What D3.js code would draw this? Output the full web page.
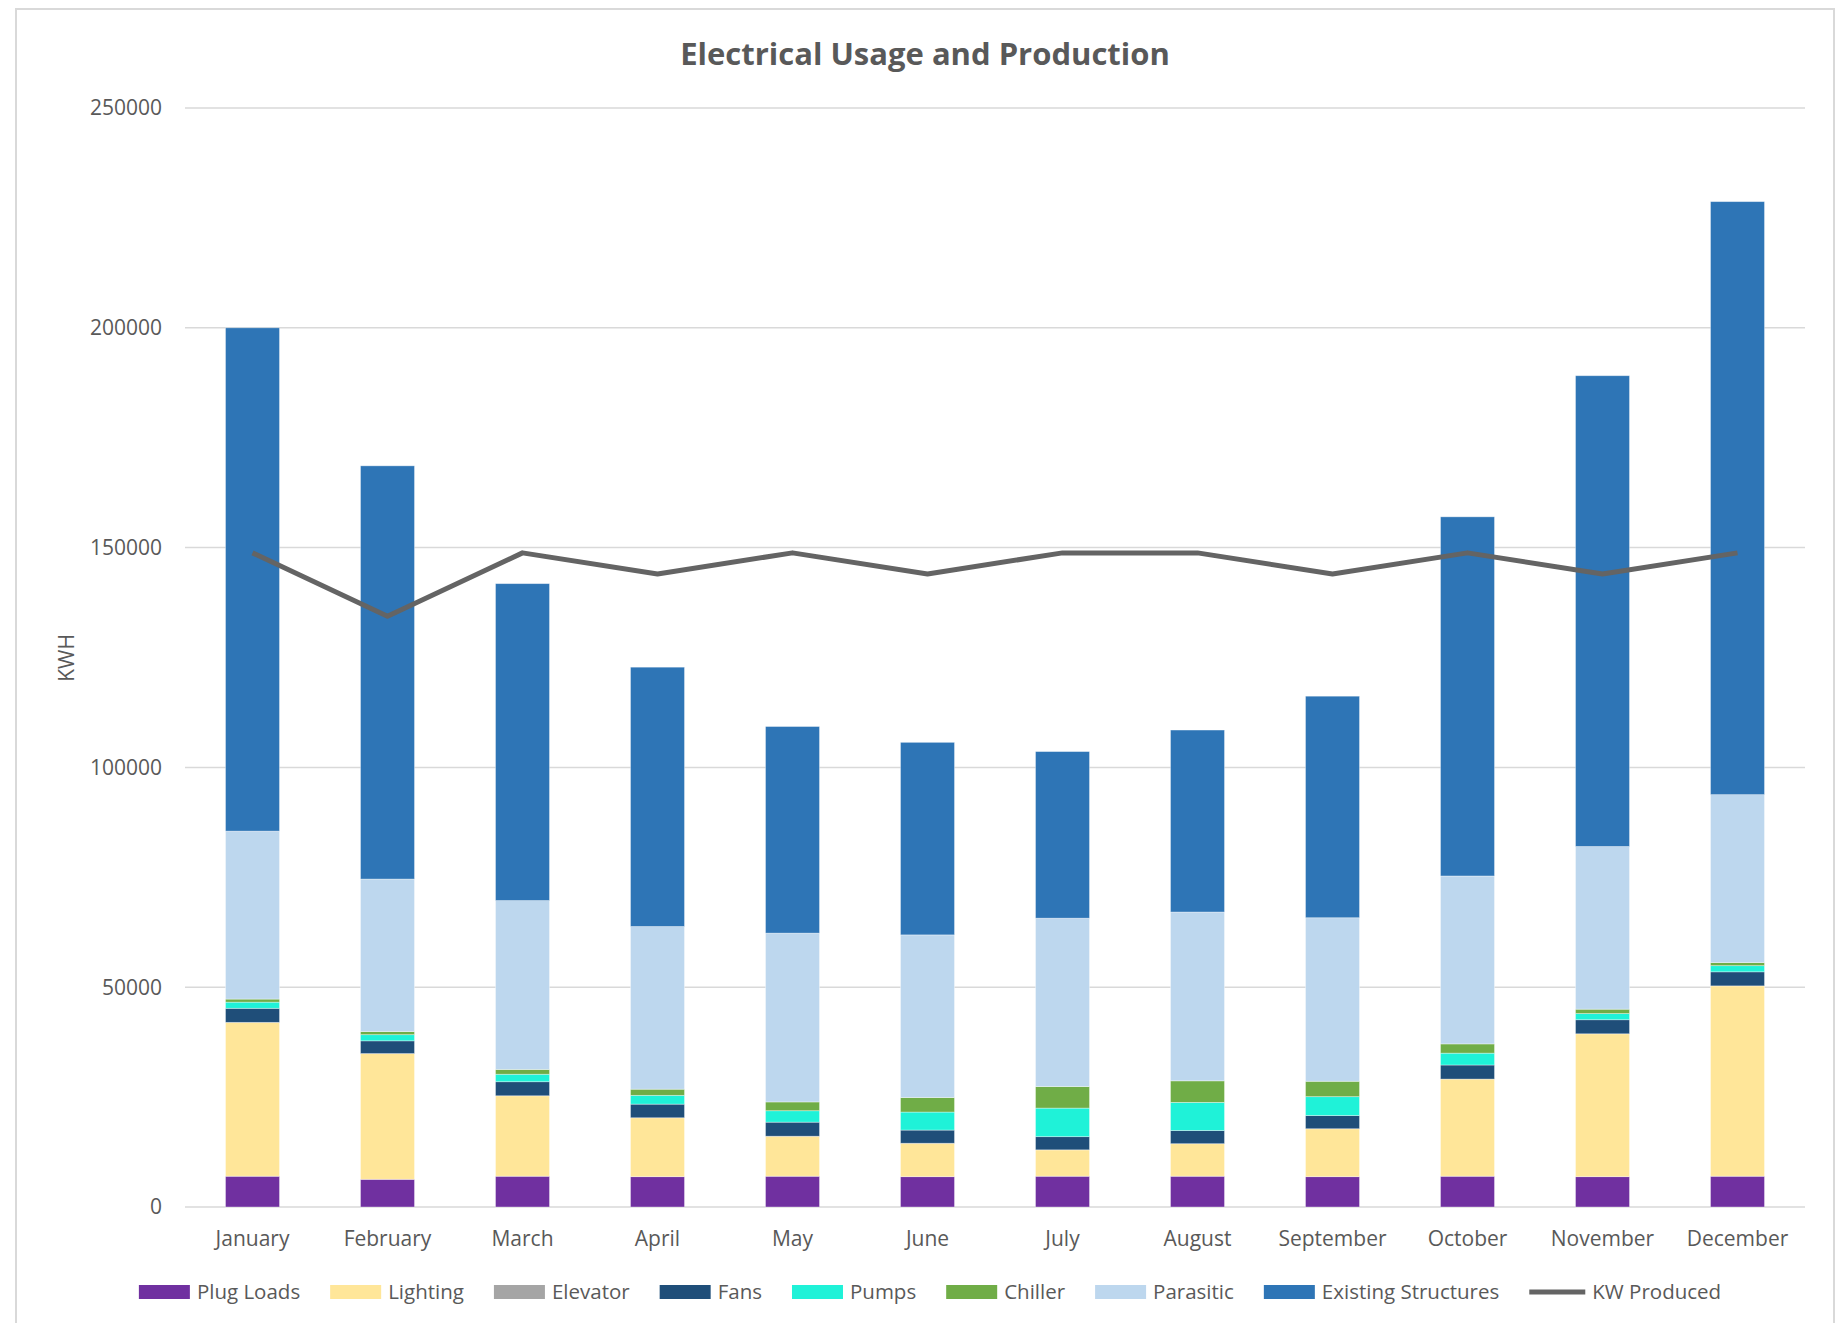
<!DOCTYPE html>
<html>
  <script src="https://d3js.org/d3.v7.min.js" type="text/JavaScript"></script>
  <style>
    body { margin: 0; background: #fff; }
    text { font-family: "Open Sans", "Noto Sans", sans-serif; fill: #595959; }
  </style>
  <body>
    <svg></svg>
    <script>
// values (kWh)
var months = ['January', 'February', 'March', 'April', 'May', 'June', 'July',
  'August', 'September', 'October', 'November', 'December'];
var plugLoads = [7000, 6300, 7000, 6900, 7000, 6900, 7000, 7000, 6900, 7000, 6900, 7000];
var lighting = [35000, 28600, 18300, 13400, 9100, 7600, 6000, 7400, 10900, 22100, 32500, 43300];
var elevator = [0, 0, 0, 0, 0, 0, 0, 0, 0, 0, 0, 0];
var fans = [3200, 2900, 3200, 3100, 3200, 3000, 3000, 3000, 3000, 3200, 3200, 3200];
var pumps = [1400, 1400, 1700, 2000, 2600, 4100, 6500, 6400, 4300, 2700, 1400, 1400];
var chiller = [700, 700, 1100, 1400, 2000, 3300, 4900, 4900, 3500, 2100, 1000, 700];
var parasitic = [38200, 34700, 38400, 37000, 38400, 37000, 38300, 38400, 37200, 38200, 37000, 38200];
var existing = [114500, 94000, 72100, 59000, 47000, 43800, 37900, 41400, 50400, 81700, 107100, 134900];
var kwProduced = [148800, 134400, 148800, 144000, 148800, 144000, 148800, 148800, 144000, 148800, 144000, 148800];
var yTicks = [0, 50000, 100000, 150000, 200000, 250000];

var seriesNames = ['Plug Loads', 'Lighting', 'Elevator', 'Fans', 'Pumps', 'Chiller', 'Parasitic', 'Existing Structures'];
var seriesData = [plugLoads, lighting, elevator, fans, pumps, chiller, parasitic, existing];
var colors = ['#7030A0', '#FFE699', '#A5A5A5', '#1F4E79', '#1FF2D8', '#70AD47', '#BDD7EE', '#2E75B6'];
var lineColor = '#646464';

// rows for d3.stack
var table = months.map((m, i) => {
  var row = { month: m };
  seriesNames.forEach((s, j) => row[s] = seriesData[j][i]);
  return row;
});

var svg = d3.select('svg')
  .attr('width', 1842)
  .attr('height', 1323);

// chart frame
svg.append('rect')
  .attr('x', 16).attr('y', 9)
  .attr('width', 1818).attr('height', 1400)
  .style('fill', '#fff')
  .style('stroke', '#D9D9D9')
  .style('stroke-width', 2);

svg.append('text')
  .attr('x', 925).attr('y', 65)
  .attr('text-anchor', 'middle')
  .style('font-size', '31px')
  .style('font-weight', 'bold')
  .text('Electrical Usage and Production');

var xScale = d3.scaleBand().domain(months).range([185, 1805]).paddingInner(0.6).paddingOuter(0.3);
var yScale = d3.scaleLinear().domain([0, 250000]).range([1207, 108]);

// gridlines
svg.append('g')
  .selectAll('line')
  .data(yTicks)
  .enter()
  .append('line')
    .attr('x1', 185).attr('x2', 1805)
    .attr('y1', d => yScale(d)).attr('y2', d => yScale(d))
    .style('stroke', '#D9D9D9')
    .style('stroke-width', 1.5);

// y axis labels
svg.append('g')
  .selectAll('text')
  .data(yTicks)
  .enter()
  .append('text')
    .attr('x', 162)
    .attr('y', d => yScale(d))
    .attr('dy', '0.35em')
    .attr('text-anchor', 'end')
    .style('font-size', '21px')
    .text(d => d);

svg.append('text')
  .attr('transform', 'translate(67,658) rotate(-90)')
  .attr('text-anchor', 'middle')
  .attr('dy', '0.35em')
  .style('font-size', '21px')
  .text('KWH');

// x axis labels
svg.append('g')
  .selectAll('text')
  .data(months)
  .enter()
  .append('text')
    .attr('x', d => xScale(d) + xScale.bandwidth() / 2)
    .attr('y', 1246)
    .attr('text-anchor', 'middle')
    .style('font-size', '21px')
    .text(d => d);

// stacked bars
var stacked = d3.stack().keys(seriesNames)(table);

svg.append('g')
  .selectAll('g')
  .data(stacked)
  .enter()
  .append('g')
    .style('fill', (d, i) => colors[i])
  .selectAll('rect')
  .data(d => d)
  .enter()
  .append('rect')
    .attr('x', d => xScale(d.data.month))
    .attr('width', xScale.bandwidth())
    .attr('y', d => yScale(d[1]))
    .attr('height', d => yScale(d[0]) - yScale(d[1]))
    .style('stroke', 'rgba(255,255,255,0.45)')
    .style('stroke-width', 0.8);

// KW produced line
var line = d3.line()
  .x((d, i) => xScale(months[i]) + xScale.bandwidth() / 2)
  .y(d => yScale(d));

svg.append('path')
  .datum(kwProduced)
  .attr('d', line)
  .style('fill', 'none')
  .style('stroke', lineColor)
  .style('stroke-width', 5)
  .style('stroke-linejoin', 'round');

// legend
var legendItems = seriesNames.map((s, i) => ({ name: s, color: colors[i], type: 'box' }))
  .concat([{ name: 'KW Produced', color: lineColor, type: 'line' }]);

var legend = svg.append('g');
var lx = 0;
legendItems.forEach(item => {
  var g = legend.append('g').attr('transform', `translate(${lx},0)`);
  if (item.type === 'box') {
    g.append('rect')
      .attr('x', 0).attr('y', -7)
      .attr('width', 51).attr('height', 14)
      .style('fill', item.color);
  } else {
    g.append('line')
      .attr('x1', 0).attr('x2', 56)
      .attr('y1', 0).attr('y2', 0)
      .style('stroke', item.color)
      .style('stroke-width', 5);
  }
  var t = g.append('text')
    .attr('x', item.type === 'box' ? 58 : 63)
    .attr('dy', '0.35em')
    .style('font-size', '20.5px')
    .text(item.name);
  lx += (item.type === 'box' ? 58 : 63) + t.node().getComputedTextLength() + 30;
});
var legendWidth = lx - 30;
legend.attr('transform', `translate(${930 - legendWidth / 2},1292)`);

    </script>
  </body>
</html>
